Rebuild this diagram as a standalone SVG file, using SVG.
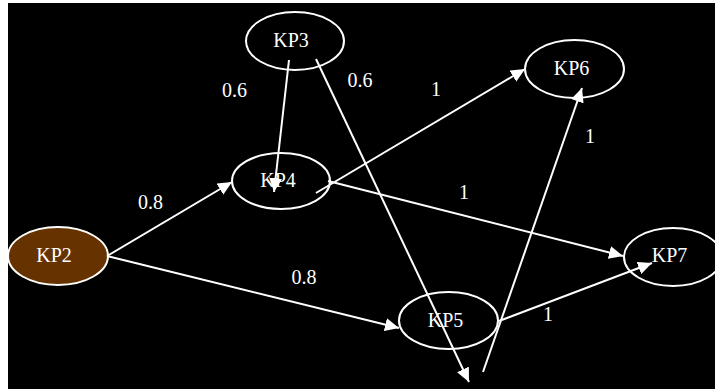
<svg xmlns="http://www.w3.org/2000/svg" width="715" height="389" viewBox="0 0 715 389">
<style>
.node ellipse{fill:none;stroke:#ffffff;stroke-width:2}
.node text{font-family:"Liberation Serif","Times New Roman",serif;font-size:20px;fill:#ffffff;text-anchor:middle}
.lbl{font-family:"Liberation Serif","Times New Roman",serif;font-size:20px;fill:#ffffff;text-anchor:middle}
.edge{stroke:#ffffff;stroke-width:2;fill:none;marker-end:url(#ah)}
</style>
<defs>
<marker id="ah" markerUnits="userSpaceOnUse" markerWidth="15" markerHeight="13" refX="14" refY="6.5" orient="auto">
<path d="M0,0 L14,6.5 L0,13 z" fill="#ffffff"/>
</marker>
</defs>
<rect x="0" y="0" width="715" height="389" fill="#ffffff"/>
<rect x="8" y="3" width="707" height="386" fill="#000000"/>
<g id="KP2" class="node"><ellipse cx="58" cy="256" rx="50" ry="29" style="fill:#663300"/><text x="54" y="262">KP2</text></g>
<g id="KP3" class="node"><ellipse cx="295" cy="41" rx="49" ry="29"/><text x="291" y="47">KP3</text></g>
<g id="KP4" class="node"><ellipse cx="281" cy="181" rx="49" ry="28"/><text x="278" y="187">KP4</text></g>
<g id="KP5" class="node"><ellipse cx="448.5" cy="320.5" rx="49.5" ry="28.5"/><text x="445.5" y="327">KP5</text></g>
<g id="KP6" class="node"><ellipse cx="574.5" cy="69" rx="49.5" ry="29"/><text x="571.5" y="75">KP6</text></g>
<g id="KP7" class="node"><ellipse cx="673" cy="257" rx="49" ry="29"/><text x="669.5" y="262">KP7</text></g>
<g id="connectors">
<line class="edge" x1="289" y1="60" x2="274" y2="192"/>
<line class="edge" x1="316" y1="59" x2="469" y2="382"/>
<line class="edge" x1="107" y1="256" x2="232" y2="182"/>
<line class="edge" x1="107" y1="256" x2="399" y2="328"/>
<line class="edge" x1="316" y1="193" x2="525" y2="69"/>
<line class="edge" x1="328" y1="181" x2="623" y2="256"/>
<line class="edge" x1="499" y1="321" x2="652" y2="263"/>
<line class="edge" x1="483" y1="372" x2="582" y2="88"/>
</g>
<g id="labels">
<text class="lbl" x="234.5" y="97">0.6</text>
<text class="lbl" x="360" y="87">0.6</text>
<text class="lbl" x="436" y="96">1</text>
<text class="lbl" x="590" y="143">1</text>
<text class="lbl" x="464" y="199">1</text>
<text class="lbl" x="150.5" y="209">0.8</text>
<text class="lbl" x="304" y="284">0.8</text>
<text class="lbl" x="548" y="321">1</text>
</g>
</svg>
